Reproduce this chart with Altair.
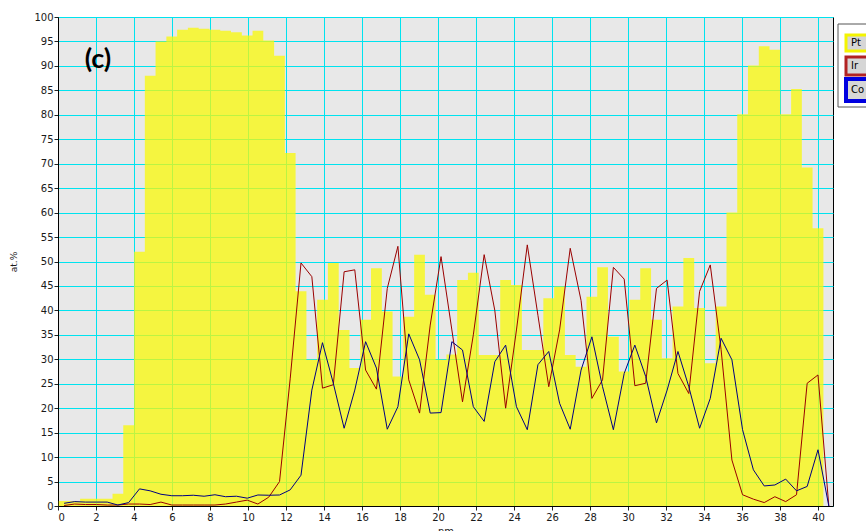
import altair as alt
import pandas as pd

# depth positions (nm) of the measurement bins
positions = [0.32, 0.88, 1.45, 2.02, 2.59, 3.15, 3.72, 4.29, 4.85, 5.42,
             5.99, 6.55, 7.12, 7.69, 8.26, 8.82, 9.39, 9.96, 10.52, 11.09,
             11.66, 12.22, 12.79, 13.36, 13.92, 14.49, 15.06, 15.62, 16.19, 16.76,
             17.33, 17.89, 18.46, 19.03, 19.59, 20.16, 20.73, 21.29, 21.86, 22.43,
             22.99, 23.56, 24.13, 24.70, 25.26, 25.83, 26.40, 26.96, 27.53, 28.10,
             28.66, 29.23, 29.80, 30.36, 30.93, 31.50, 32.06, 32.63, 33.20, 33.77,
             34.33, 34.90, 35.47, 36.03, 36.60, 37.17, 37.73, 38.30, 38.87, 39.43,
             40.00, 40.57]

pt = [1.0, 1.0, 1.5, 1.5, 1.5, 2.5, 16.5, 52.0, 88.0, 95.0,
      96.0, 97.4, 97.8, 97.6, 97.4, 97.2, 96.9, 96.2, 97.2, 95.2,
      92.1, 72.2, 43.9, 29.9, 42.2, 49.7, 36.0, 28.2, 38.1, 48.6,
      39.8, 26.5, 38.7, 51.4, 43.2, 29.9, 31.0, 46.2, 47.7, 30.9,
      30.9, 46.2, 45.2, 31.9, 31.9, 42.5, 44.9, 30.9, 28.5, 42.8,
      48.8, 34.6, 27.5, 42.2, 48.6, 38.1, 30.2, 40.8, 50.7, 40.5,
      29.2, 40.8, 60.0, 80.1, 90.1, 94.0, 93.3, 80.1, 85.3, 69.2,
      56.8, 0.0]

ir = [0.1, 0.4, 0.3, 0.3, 0.2, 0.2, 0.4, 0.4, 0.3, 0.8,
      0.2, 0.2, 0.2, 0.2, 0.2, 0.4, 0.8, 1.2, 0.4, 1.8,
      5.0, 26.0, 49.7, 46.9, 24.1, 24.8, 47.9, 48.3, 27.8, 23.9,
      44.5, 53.1, 25.8, 19.0, 37.0, 51.0, 36.0, 21.3, 35.0, 51.4,
      40.0, 20.0, 36.0, 53.4, 39.0, 24.4, 36.0, 52.7, 42.0, 22.0,
      25.8, 48.8, 46.4, 24.6, 25.1, 44.5, 46.2, 27.1, 23.0, 43.9,
      49.3, 32.0, 9.4, 2.3, 1.4, 0.7, 1.9, 0.9, 2.3, 25.1,
      26.8, 0.0]

co = [0.55, 0.9, 0.8, 0.8, 0.8, 0.2, 0.7, 3.5, 3.1, 2.4,
      2.1, 2.1, 2.2, 2.0, 2.3, 1.9, 2.0, 1.6, 2.25, 2.2,
      2.25, 3.3, 6.3, 23.7, 33.4, 25.1, 15.9, 23.7, 33.6, 28.2,
      15.7, 20.3, 35.2, 29.9, 19.0, 19.1, 33.6, 31.9, 20.3, 17.3,
      29.5, 32.9, 20.3, 15.6, 28.9, 31.6, 21.0, 15.7, 27.8, 34.6,
      24.4, 15.6, 27.1, 32.9, 26.5, 17.0, 23.7, 31.6, 24.4, 15.9,
      22.0, 34.3, 29.9, 15.6, 7.4, 4.1, 4.3, 5.5, 3.1, 4.0,
      11.5, 0.0]

legend_names = ["Pt", "Ir", "Co"]
x_ticks = list(range(0, 41, 2))
y_ticks = list(range(0, 101, 5))

PT_FILL = "#fafa08"
IR_COLOR = "#990000"
CO_COLOR = "#000080"
GRID = "#00e3ef"
FONT = "DejaVu Sans"

# Pt bars as a step area: bin edges are midpoints between positions
mids = [(positions[i] + positions[i + 1]) / 2 for i in range(len(positions) - 1)]
first_edge = positions[0] - (positions[1] - positions[0]) / 2
last_edge = positions[-1] + (positions[-1] - positions[-2]) / 2
edges = [first_edge] + mids + [last_edge]
df_pt = pd.DataFrame({"x": edges, "v": pt + [pt[-1]]})

df_lines = pd.concat([
    pd.DataFrame({"x": positions, "v": ir, "series": "Ir"}),
    pd.DataFrame({"x": positions, "v": co, "series": "Co"}),
])

x_enc = alt.X("x:Q",
              scale=alt.Scale(domain=[0, 40.79], nice=False, zero=False),
              axis=alt.Axis(values=x_ticks, tickCount=len(x_ticks) + 5,
                            title="nm", format="d", labelOverlap=False,
                            tickSize=4, labelPadding=2, titlePadding=4))
y_enc = alt.Y("v:Q",
              scale=alt.Scale(domain=[0, 100], nice=False),
              axis=alt.Axis(values=y_ticks, tickCount=len(y_ticks) + 5,
                            title="at.%", format="d", labelOverlap=False,
                            tickSize=4, labelPadding=1, titlePadding=15,
                            titleFontSize=9))

area = alt.Chart(df_pt).mark_area(interpolate="step-after", color=PT_FILL,
                                  opacity=0.75).encode(x=x_enc, y=y_enc)

lines = alt.Chart(df_lines).mark_line(strokeWidth=1).encode(
    x="x:Q", y="v:Q",
    color=alt.Color("series:N",
                    scale=alt.Scale(domain=["Ir", "Co"], range=[IR_COLOR, CO_COLOR]),
                    legend=None))

label_c = alt.Chart(pd.DataFrame({"t": ["(c)"]})).mark_text(
    font="Lato", fontSize=27, fontWeight="bold", color="black",
    align="center", baseline="middle").encode(
    text="t:N", x=alt.value(40), y=alt.value(43))

one = pd.DataFrame({"a": [0]})
legend_layers = [
    alt.Chart(one).mark_rect(fill="white", stroke="#555555", strokeWidth=1).encode(
        x=alt.value(780), x2=alt.value(860), y=alt.value(7), y2=alt.value(90))
]
box_specs = [("Pt", "#f4f400", 3, 18, 34, 26),
             ("Ir", "#b22222", 3, 40, 58, 49),
             ("Co", "#0000e0", 4, 62, 84, 73)]
for name, strk, sw, y0, y1, yc in box_specs:
    legend_layers.append(
        alt.Chart(one).mark_rect(fill="#d6d6d6", stroke=strk, strokeWidth=sw).encode(
            x=alt.value(788), x2=alt.value(840), y=alt.value(y0), y2=alt.value(y1)))
    legend_layers.append(
        alt.Chart(pd.DataFrame({"t": [name]})).mark_text(
            font=FONT, fontSize=10, color="black", align="left",
            baseline="middle").encode(text="t:N", x=alt.value(793), y=alt.value(yc)))

chart = alt.layer(area, lines, label_c, *legend_layers).properties(
    width=775, height=489,
    padding={"left": 58, "top": 17, "right": 33, "bottom": 25},
    autosize=alt.AutoSizeParams(type="none"),
    background="white",
).configure_view(
    fill="#e8e8e8", stroke="black", strokeWidth=1
).configure_axis(
    grid=True, gridColor=GRID, gridOpacity=1, gridWidth=1,
    domainColor="black", tickColor="#222222",
    labelFont=FONT, labelFontSize=10, labelColor="#1a1a1a",
    titleFont=FONT, titleFontSize=10, titleFontWeight="normal", titleColor="#1a1a1a",
)

chart.save("out.html", embed_options={"renderer": "svg", "actions": False})
